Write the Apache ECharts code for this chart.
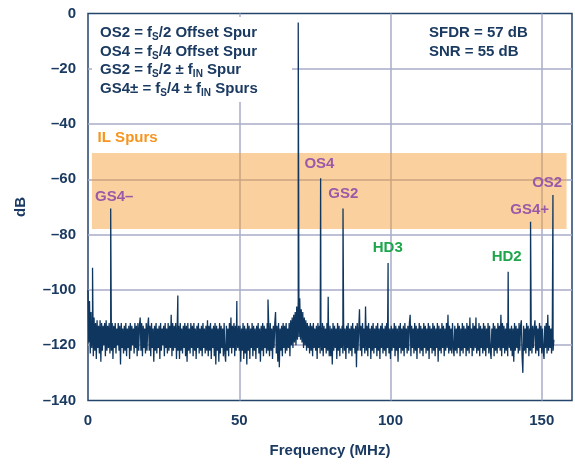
<!DOCTYPE html>
<html>
<head>
<meta charset="utf-8">
<script src="https://cdn.jsdelivr.net/npm/echarts@6/dist/echarts.min.js"></script>
<style>
  html, body { margin: 0; padding: 0; background: #ffffff; }
  #chart { width: 575px; height: 464px; }
</style>
</head>
<body>
<div id="chart"></div>
<script>
// FFT spectrum of the ADC output: noise floor sampled every 0.25 MHz from 0 MHz
const noiseStartMHz = 0;
const noiseStepMHz = 0.25;
const noiseFloorDb = [
  // 0 – 9.75 MHz
  -100,-119,-104,-123,-108,-121,-111,-124,-110,-122,
  -112,-125,-111,-121,-113,-123,-111,-126,-112,-122,
  -113,-120,-112,-124,-111,-122,-113,-121,-112,-123,
  -113,-122,-112,-125,-113,-121,-112,-123,-114,-120,
  // 10 – 19.75 MHz
  -112,-122,-113,-127,-112,-121,-114,-123,-113,-122,
  -112,-124,-114,-121,-113,-125,-112,-122,-113,-120,
  -114,-123,-112,-121,-113,-124,-112,-122,-113,-110,
  -122,-112,-124,-113,-121,-114,-123,-112,-122,-113,
  // 20 – 29.75 MHz
  -110,-122,-113,-124,-112,-121,-114,-126,-113,-122,
  -112,-123,-114,-121,-113,-125,-112,-122,-114,-120,
  -113,-124,-112,-121,-114,-123,-112,-122,-113,-121,
  -109,-124,-112,-122,-113,-121,-112,-125,-113,-122,
  // 30 – 39.75 MHz
  -113,-125,-112,-122,-114,-123,-113,-121,-112,-124,
  -113,-126,-112,-122,-114,-123,-112,-121,-113,-124,
  -112,-122,-114,-125,-113,-121,-112,-123,-114,-122,
  -113,-124,-112,-121,-114,-123,-113,-122,-111,-124,
  // 40 – 49.75 MHz
  -113,-122,-112,-125,-114,-121,-113,-124,-112,-127,
  -113,-122,-114,-126,-112,-123,-113,-121,-114,-124,
  -112,-123,-126,-113,-122,-114,-124,-112,-121,-110,
  -123,-113,-121,-112,-124,-113,-122,-114,-121,-113,
  // 50 – 59.75 MHz
  -122,-113,-126,-114,-122,-112,-125,-113,-123,-114,
  -127,-112,-122,-113,-125,-114,-121,-112,-124,-113,
  -122,-114,-125,-113,-121,-112,-123,-114,-126,-113,
  -122,-112,-124,-113,-121,-114,-123,-112,-122,-113,
  // 60 – 69.75 MHz
  -124,-112,-122,-114,-125,-113,-121,-112,-108,-123,
  -113,-126,-112,-128,-114,-122,-113,-124,-112,-121,
  -113,-123,-112,-122,-114,-121,-112,-124,-111,-120,
  -110,-121,-109,-119,-108,-120,-106,-118,-104,-117,
  // 70 – 79.75 MHz
  -103,-118,-107,-119,-108,-121,-110,-120,-111,-122,
  -112,-121,-113,-123,-112,-122,-113,-124,-112,-121,
  -114,-122,-113,-125,-112,-121,-113,-123,-114,-122,
  -112,-124,-113,-121,-114,-123,-112,-122,-113,-124,
  // 80 – 89.75 MHz
  -113,-124,-114,-127,-112,-122,-113,-121,-114,-125,
  -112,-122,-113,-124,-114,-121,-113,-123,-112,-122,
  -114,-125,-113,-121,-112,-123,-114,-122,-113,-124,
  -112,-121,-114,-123,-113,-128,-112,-122,-114,-107,
  // 90 – 99.75 MHz
  -122,-113,-124,-112,-121,-114,-123,-106,-122,-113,
  -124,-112,-121,-114,-125,-113,-122,-112,-123,-114,
  -121,-113,-124,-112,-122,-114,-125,-113,-121,-112,
  -123,-114,-122,-113,-124,-112,-121,-113,-123,-114,
  // 100 – 109.75 MHz
  -125,-113,-122,-114,-121,-112,-124,-113,-122,-114,
  -126,-113,-121,-112,-123,-114,-122,-113,-124,-112,
  -121,-114,-123,-113,-122,-112,-109,-124,-113,-121,
  -114,-123,-112,-122,-113,-125,-114,-121,-112,-123,
  // 110 – 119.75 MHz
  -113,-122,-114,-124,-112,-121,-113,-123,-114,-122,
  -112,-125,-113,-121,-114,-123,-112,-122,-113,-124,
  -114,-121,-112,-126,-113,-122,-114,-123,-112,-121,
  -113,-124,-114,-122,-112,-121,-109,-123,-113,-122,
  // 120 – 129.75 MHz
  -114,-123,-112,-121,-124,-113,-122,-114,-123,-112,
  -121,-113,-124,-114,-122,-112,-123,-113,-121,-114,
  -124,-112,-122,-113,-123,-110,-121,-114,-124,-112,
  -122,-113,-121,-110,-123,-114,-122,-112,-124,-113,
  // 130 – 139.75 MHz
  -121,-114,-123,-112,-122,-113,-124,-114,-121,-112,
  -123,-113,-122,-125,-114,-121,-112,-124,-113,-122,
  -114,-123,-112,-121,-113,-122,-109,-124,-112,-121,
  -113,-123,-114,-122,-112,-124,-113,-121,-114,-122,
  // 140 – 149.75 MHz
  -113,-124,-114,-126,-112,-122,-113,-121,-114,-123,
  -112,-122,-113,-111,-124,-130,-113,-122,-114,-123,
  -112,-121,-113,-124,-114,-122,-112,-123,-113,-121,
  -114,-111,-123,-113,-122,-114,-124,-112,-121,-113,
  // 150 – 154 MHz
  -123,-114,-122,-125,-113,-121,-112,-123,-109,-122,
  -113,-121,-114,-123,-112,-122,-118
];

// Discrete tones: fundamental, harmonics and interleaving spurs
const spurFreqMHz = [1.5, 7.5, 29.7, 49.2, 59.5, 69.5, 76.9, 79.4, 84.3, 99.2, 138.9, 146.3, 153.7];
const spurLevelDb = [-92, -70.5, -102, -104, -103.5, -3.3, -59.6, -102.5, -70.5, -90.3, -93.4, -75.3, -65.7];

// Annotation texts and their anchors (MHz, dB)
const spurLabelText = ['GS4–', 'OS4', 'GS2', 'OS2', 'GS4+', 'HD3', 'HD2', 'IL Spurs'];
const spurLabelFreq = [8.65, 76.5, 84.4, 151.8, 146.0, 99.1, 138.4, 13.1];
const spurLabelDb   = [-66.3, -54.5, -65.3, -61.3, -71.1, -84.8, -88.0, -45.0];
const spurLabelKind = ['il', 'il', 'il', 'il', 'il', 'hd', 'hd', 'band'];

// Interleaving spur region
const ilBandFreq = [1.3, 158.2];
const ilBandDb = [-78, -50.5];

// Axis ticks
const xTicks = [0, 50, 100, 150];
const yTicks = [0, -20, -40, -60, -80, -100, -120, -140];

const navy = '#1b3a61';
const trace = '#0f365e';
const gridGray = '#a9adc7';
const kindColor = { il: '#9a5aa8', hd: '#1ea64c', band: '#f7941d' };
const font = '"Liberation Sans", Arial, Helvetica, sans-serif';

// Merge floor samples and tones into one frequency-ordered trace
const points = noiseFloorDb.map((v, i) => [noiseStartMHz + i * noiseStepMHz, v]);
spurFreqMHz.forEach((f, i) => points.push([f, spurLevelDb[i]]));
points.sort((a, b) => a[0] - b[0]);

const labelData = spurLabelText.map((t, i) => [spurLabelFreq[i], spurLabelDb[i], i]);

const chart = echarts.init(document.getElementById('chart'), null, { renderer: 'canvas' });

chart.setOption({
  animation: false,
  backgroundColor: '#ffffff',
  grid: {
    left: 88, right: 3, top: 13.5, bottom: 63.5,
    outerBoundsMode: 'none', containLabel: false,
    show: true, borderColor: '#24446b', borderWidth: 1.5, backgroundColor: 'transparent'
  },
  xAxis: {
    type: 'value', min: 0, max: 160, interval: 50,
    name: 'Frequency (MHz)', nameLocation: 'middle', nameGap: 43,
    nameTextStyle: { color: navy, fontSize: 15, fontWeight: 'bold', fontFamily: font },
    axisLine: { show: false }, axisTick: { show: false },
    axisLabel: {
      color: navy, fontSize: 15, fontWeight: 'bold', fontFamily: font, margin: 13,
      showMaxLabel: false,
      formatter: v => (xTicks.indexOf(v) >= 0 ? String(v) : '')
    },
    splitLine: { show: true, showMinLine: false, showMaxLine: false, lineStyle: { color: gridGray, width: 1.5 } }
  },
  yAxis: {
    type: 'value', min: -140, max: 0, interval: 20,
    name: 'dB', nameLocation: 'middle', nameGap: 60, nameRotate: 90,
    nameTextStyle: { color: navy, fontSize: 15, fontWeight: 'bold', fontFamily: font },
    axisLine: { show: false }, axisTick: { show: false },
    axisLabel: {
      color: navy, fontSize: 15, fontWeight: 'bold', fontFamily: font, margin: 12,
      formatter: v => (yTicks.indexOf(v) >= 0 ? String(v).replace('-', '–') : '')
    },
    splitLine: { show: true, showMinLine: false, showMaxLine: false, lineStyle: { color: gridGray, width: 1.5 } }
  },
  graphic: [
    { type: 'rect', z: 1, shape: { x: 92, y: 17, width: 200, height: 85 }, style: { fill: '#ffffff' } },
    {
      type: 'text', z: 10, left: 100, top: 23.75,
      style: {
        text: 'OS2 = f{s|S}/2 Offset Spur\nOS4 = f{s|S}/4 Offset Spur\nGS2 = f{s|S}/2 ± f{s|IN} Spur\nGS4± = f{s|S}/4 ± f{s|IN} Spurs',
        fill: navy, fontSize: 15, fontWeight: 'bold', fontFamily: font, lineHeight: 18.5,
        rich: { s: { fill: navy, fontSize: 10, fontWeight: 'bold', fontFamily: font, verticalAlign: 'bottom', lineHeight: 11 } }
      }
    },
    {
      type: 'text', z: 10, left: 429, top: 23.75,
      style: {
        text: 'SFDR = 57 dB\nSNR = 55 dB',
        fill: navy, fontSize: 15, fontWeight: 'bold', fontFamily: font, lineHeight: 18.5
      }
    }
  ],
  series: [
    {
      type: 'line', data: points, showSymbol: false, symbol: 'none', z: 2,
      sampling: false, clip: true,
      lineStyle: { color: trace, width: 1.3 }
    },
    {
      type: 'line', data: [], z: 5,
      markArea: {
        silent: true,
        itemStyle: { color: 'rgba(245,150,40,0.45)' },
        data: [[{ coord: [ilBandFreq[0], ilBandDb[0]] }, { coord: [ilBandFreq[1], ilBandDb[1]] }]]
      }
    },
    {
      type: 'custom', data: labelData, z: 8, silent: true,
      renderItem: (params, api) => {
        const p = api.coord([api.value(0), api.value(1)]);
        const i = api.value(2);
        return {
          type: 'text', x: p[0], y: p[1],
          style: {
            text: spurLabelText[i], fill: kindColor[spurLabelKind[i]],
            fontSize: 15, fontWeight: 'bold', fontFamily: font,
            align: 'center', verticalAlign: 'middle'
          }
        };
      }
    }
  ]
});
</script>
</body>
</html>
